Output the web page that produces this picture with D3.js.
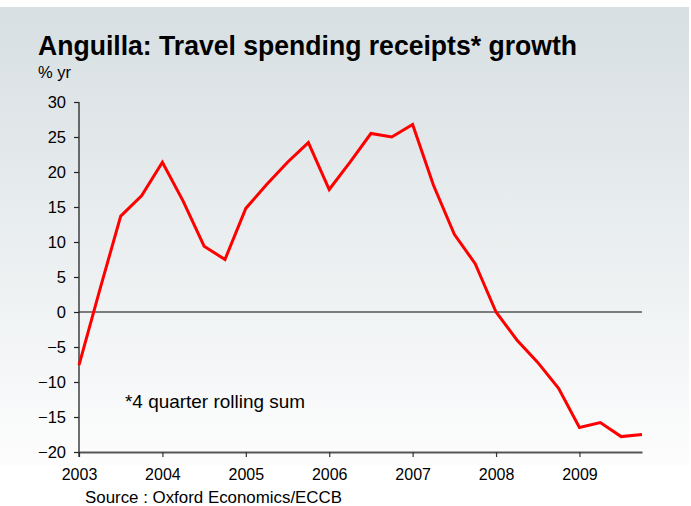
<!DOCTYPE html>
<html>
<head>
<meta charset="utf-8">
<script src="https://cdn.jsdelivr.net/npm/d3@7"></script>
<style>
  html, body { margin: 0; padding: 0; background: #ffffff; }
  svg { display: block; font-family: "Liberation Sans", Arial, sans-serif; }
</style>
</head>
<body>
<svg id="chart" width="691" height="506"></svg>
<script>
// Quarterly growth of travel receipts (% yr), 2003 Q1 – 2009 Q4
const quarters = d3.range(28).map(i => 2003 + i / 4);
const growth = [
  -7.6, 3.2, 13.7, 16.6, 21.4, 15.8, 9.4, 7.5,
  14.8, 18.2, 21.4, 24.2, 17.5, 21.4, 25.5, 25.0,
  26.8, 18.1, 11.1, 6.9, 0.0, -4.0, -7.2, -10.9,
  -16.5, -15.8, -17.8, -17.5
];
const yearTicks = [2003, 2004, 2005, 2006, 2007, 2008, 2009];
const valueTicks = [30, 25, 20, 15, 10, 5, 0, -5, -10, -15, -20];

const svg = d3.select("#chart");

// Panel background: soft grey-blue fading to white
const defs = svg.append("defs");
const grad = defs.append("linearGradient")
  .attr("id", "panelFade").attr("x1", 0).attr("y1", 0).attr("x2", 0).attr("y2", 1);
grad.append("stop").attr("offset", "0%").attr("stop-color", "#d7dfe2");
grad.append("stop").attr("offset", "100%").attr("stop-color", "#fdfdfd");
svg.append("rect")
  .attr("x", 0).attr("y", 7).attr("width", 689).attr("height", 459)
  .attr("fill", "url(#panelFade)");

const x = d3.scaleLinear().domain([2003, 2009.75]).range([79, 642]);
const y = d3.scaleLinear().domain([-20, 30]).range([452, 102]);

// Title block
svg.append("text")
  .attr("x", 38).attr("y", 55)
  .attr("font-size", 27).attr("font-weight", "bold").attr("fill", "#000")
  .attr("textLength", 539).attr("lengthAdjust", "spacingAndGlyphs")
  .text("Anguilla: Travel spending receipts* growth");
svg.append("text")
  .attr("x", 38).attr("y", 78)
  .attr("font-size", 17).attr("fill", "#000")
  .attr("textLength", 33).attr("lengthAdjust", "spacingAndGlyphs")
  .text("% yr");

// Zero reference line
svg.append("line")
  .attr("x1", x(2003)).attr("x2", x(2009.75))
  .attr("y1", y(0)).attr("y2", y(0))
  .attr("stroke", "#555").attr("stroke-width", 1.5);

// X axis along the bottom of the plot
const xAxis = d3.axisBottom(x)
  .tickValues(yearTicks).tickFormat(d3.format("d"))
  .tickSize(5).tickSizeOuter(0).tickPadding(12);
const gx = svg.append("g")
  .attr("transform", `translate(0,${y(-20)})`)
  .call(xAxis);
gx.select(".domain").attr("stroke", "#555").attr("stroke-width", 2);
gx.selectAll(".tick line").attr("stroke", "#333").attr("stroke-width", 1.2);
gx.selectAll(".tick text")
  .attr("font-size", 16).attr("fill", "#000")
  .attr("font-family", "Liberation Sans, Arial, sans-serif");

// Y axis
const yAxis = d3.axisLeft(y)
  .tickValues(valueTicks)
  .tickSize(5).tickSizeOuter(0).tickPadding(8);
const gy = svg.append("g")
  .attr("transform", `translate(${x(2003)},0)`)
  .call(yAxis);
gy.select(".domain")
  .attr("d", `M0,${y(30)}V${y(-20) + 5}`)
  .attr("stroke", "#222").attr("stroke-width", 1.3);
gy.selectAll(".tick line").attr("stroke", "#222").attr("stroke-width", 1.2);
gy.selectAll(".tick text")
  .attr("font-size", 16.5).attr("fill", "#000")
  .attr("font-family", "Liberation Sans, Arial, sans-serif");

// Growth series
const line = d3.line()
  .x((d, i) => x(quarters[i]))
  .y(d => y(d));
svg.append("path")
  .datum(growth)
  .attr("d", line)
  .attr("fill", "none")
  .attr("stroke", "#ff0000")
  .attr("stroke-width", 3)
  .attr("stroke-linejoin", "miter");

// Notes
svg.append("text")
  .attr("x", 125).attr("y", 408)
  .attr("font-size", 18.5).attr("fill", "#000")
  .attr("textLength", 180).attr("lengthAdjust", "spacingAndGlyphs")
  .text("*4 quarter rolling sum");
svg.append("text")
  .attr("x", 85).attr("y", 503)
  .attr("font-size", 16).attr("fill", "#000")
  .attr("textLength", 257).attr("lengthAdjust", "spacingAndGlyphs")
  .text("Source : Oxford Economics/ECCB");
</script>
</body>
</html>
